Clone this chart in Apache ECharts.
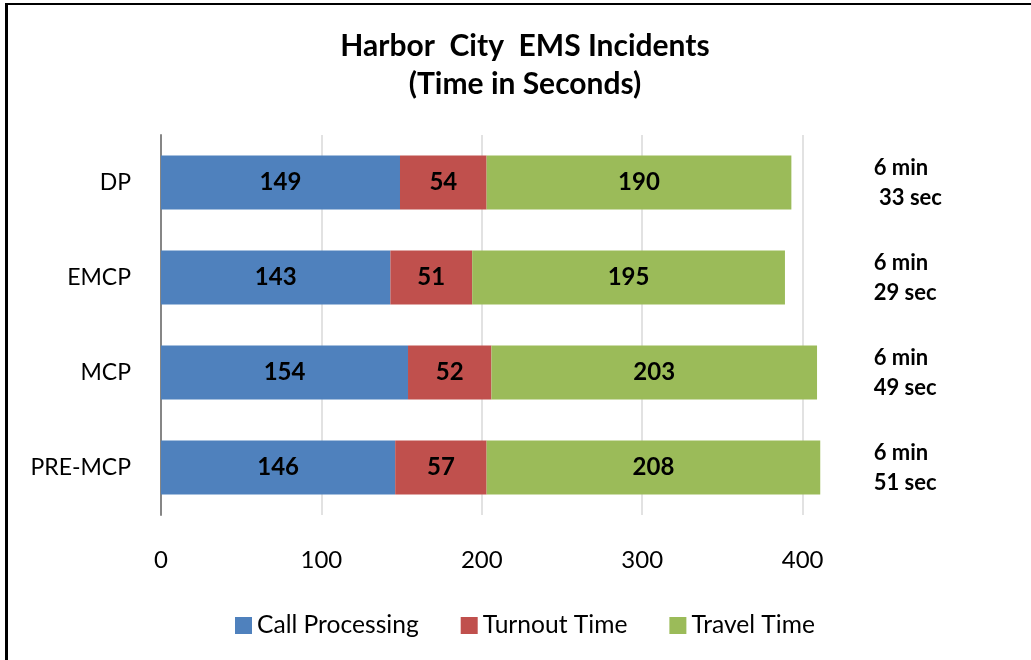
<!DOCTYPE html>
<html>
<head>
<meta charset="utf-8">
<script src="https://cdn.jsdelivr.net/npm/echarts@6/dist/echarts.min.js"></script>
<style>
  html, body { margin: 0; padding: 0; background: #fff; }
  #chart { position: absolute; left: 0; top: 0; width: 1031px; height: 660px; }
  #frame { position: absolute; left: 5px; top: 3px; width: 1040px; height: 700px;
           border-top: 2px solid #000; border-left: 3px solid #000; pointer-events: none; }
</style>
</head>
<body>
<div id="chart"></div>
<div id="frame"></div>
<script>
'use strict';
// categories top to bottom
var categories = ['DP', 'EMCP', 'MCP', 'PRE-MCP'];
var callProcessing = [149, 143, 154, 146];
var turnoutTime = [54, 51, 52, 57];
var travelTime = [190, 195, 203, 208];
var durationLabels = ['6 min\n 33 sec', '6 min\n29 sec', '6 min\n49 sec', '6 min\n51 sec'];
var gridTicks = [100, 200, 300, 400];

var font = 'Lato';
var colors = ['#4F81BD', '#C0504D', '#9BBB59'];

function barSeries(name, data, withGrid) {
    var s = {
        name: name,
        type: 'bar',
        stack: 'total',
        barWidth: 54,
        data: data,
        label: {
            show: true,
            position: 'inside',
            color: '#000',
            fontFamily: font,
            fontWeight: 'bold',
            fontSize: 24
        }
    };
    if (withGrid) {
        s.markLine = {
            silent: true,
            z: 1,
            symbol: 'none',
            label: { show: false },
            lineStyle: { color: '#D9D9D9', width: 1.5, type: 'solid' },
            data: gridTicks.map(function (v) { return { xAxis: v }; })
        };
    }
    return s;
}

var myChart = echarts.init(document.getElementById('chart'));
myChart.setOption({
    animation: false,
    color: colors,
    title: {
        text: 'Harbor  City  EMS Incidents\n(Time in Seconds)',
        left: 520,
        top: 22,
        textAlign: 'center',
        textStyle: {
            fontFamily: font,
            fontWeight: 'bold',
            fontSize: 30,
            lineHeight: 38,
            color: '#000'
        }
    },
    legend: {
        left: 230,
        top: 608,
        icon: 'rect',
        itemWidth: 17,
        itemHeight: 17,
        itemGap: 42,
        textStyle: { fontFamily: font, fontSize: 24.6, color: '#000' },
        data: ['Call Processing', 'Turnout Time', 'Travel Time']
    },
    grid: { left: 161, right: 68, top: 135, bottom: 145 },
    xAxis: {
        type: 'value',
        min: 0,
        max: 500,
        interval: 100,
        axisLine: { show: false },
        axisTick: { show: false },
        splitLine: { show: false },
        axisLabel: {
            margin: 33,
            fontFamily: font,
            fontSize: 24,
            color: '#000',
            formatter: function (v) { return v > 400 ? '' : v; }
        }
    },
    yAxis: {
        type: 'category',
        inverse: true,
        data: categories,
        axisLine: { show: true, lineStyle: { color: '#868686', width: 2 } },
        axisTick: { show: false },
        axisLabel: { margin: 30, fontFamily: font, fontSize: 23, color: '#000' }
    },
    series: [
        barSeries('Call Processing', callProcessing, true),
        barSeries('Turnout Time', turnoutTime, false),
        barSeries('Travel Time', travelTime, false),
        {
            type: 'scatter',
            symbolSize: 1,
            itemStyle: { color: 'rgba(0,0,0,0)' },
            silent: true,
            z: 5,
            data: categories.map(function (c) { return [444, c]; }),
            label: {
                show: true,
                position: 'right',
                distance: 0,
                align: 'left',
                formatter: function (p) { return durationLabels[p.dataIndex]; },
                fontFamily: font,
                fontWeight: 'bold',
                fontSize: 22,
                lineHeight: 30,
                color: '#000',
                opacity: 1
            }
        }
    ]
});
</script>
</body>
</html>
